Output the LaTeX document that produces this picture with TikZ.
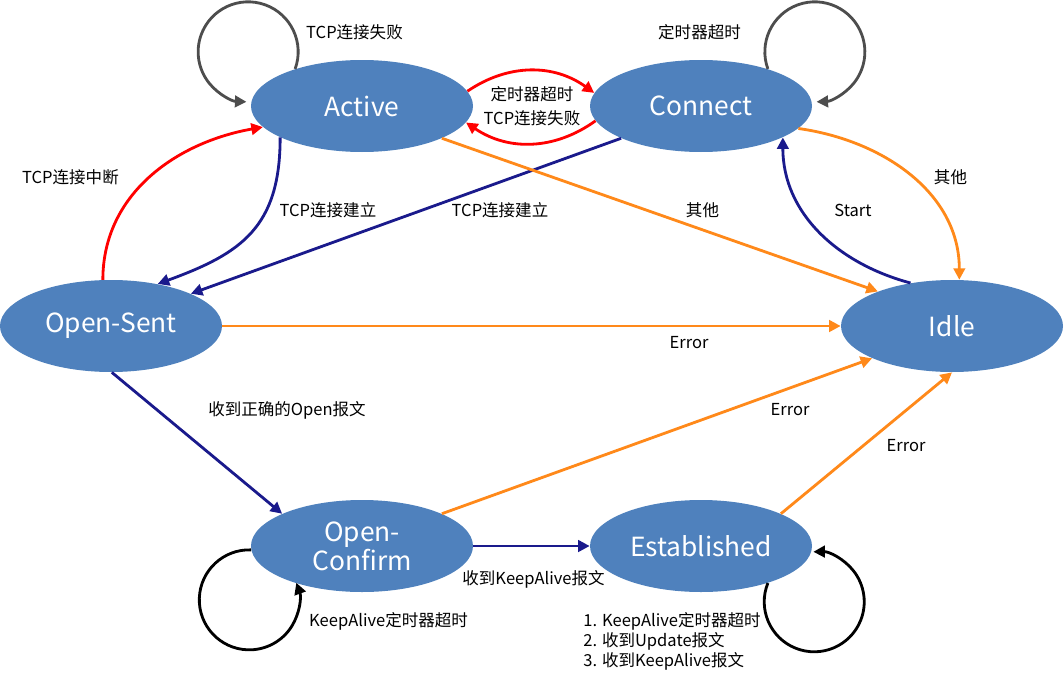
\documentclass[tikz,border=0pt]{standalone}
\usepackage{fontspec}
\setmainfont{Noto Sans CJK SC}
\usetikzlibrary{shapes.geometric, arrows.meta}

\definecolor{statefill}{RGB}{79,129,189}
\definecolor{navyline}{RGB}{26,26,140}
\definecolor{orangeline}{RGB}{255,137,26}
\definecolor{redline}{RGB}{255,0,0}
\definecolor{grayline}{RGB}{77,77,77}

\begin{document}
\begin{tikzpicture}[
    state/.style={ellipse, fill=statefill, text=white,
                  minimum width=4.44cm, minimum height=1.84cm,
                  inner sep=0pt, align=center,
                  font=\fontsize{15}{16.5}\selectfont},
    lbl/.style={inner sep=0pt, align=left,
                font=\fontsize{9.4}{11.3}\selectfont},
    arrow/.style={-{Triangle[length=2.3mm, width=2.3mm]}, line width=1.6pt},
    navyarrow/.style={arrow, draw=navyline},
    orangearrow/.style={arrow, draw=orangeline},
    redarrow/.style={arrow, draw=redline},
    loopgray/.style={arrow, draw=grayline},
    loopblack/.style={arrow, draw=black}
]
    \useasboundingbox (0,0) rectangle (21.28,13.64);

    \node[state] (active)      at (7.24, 11.52) {Active};
    \node[state] (connect)     at (14.02, 11.52) {Connect};
    \node[state] (opensent)    at (2.22, 7.12) {Open-Sent};
    \node[state] (idle)        at (19.04, 7.12) {Idle};
    \node[state] (openconfirm) at (7.24, 2.72) {Open-\\Confirm};
    \node[state] (established) at (14.02, 2.72) {Established};

    % zelf-lussen bovenaan
    \draw[loopgray] (active.151) arc[start angle=-20, end angle=268, radius=1cm];
    \draw[loopgray] (connect.29) arc[start angle=200, end angle=-88, radius=1cm];
    \node[lbl] (lactiveloop)  at (7.09, 13.0) {TCP连接失败};
    \node[lbl] (lconnectloop) at (13.99, 13.0) {定时器超时};

    % Active en Connect heen en weer
    \draw[redarrow] (active.8) to[bend left=35] (connect.173);
    \draw[redarrow] (connect.188) to[bend left=35] (active.351);
    \node[lbl] (ltimer)   at (10.64, 11.76) {定时器超时};
    \node[lbl] (lfail)    at (10.64, 11.28) {TCP连接失败};

    % Open-Sent terug naar Active
    \draw[redarrow] (opensent.100) to[out=90, in=190] (active.192);
    \node[lbl] (lbreak) at (1.41, 10.1) {TCP连接中断};

    % naar Open-Sent
    \draw[navyarrow] (active.201) to[out=-90, in=20, looseness=1.2] (opensent.42);
    \draw[navyarrow] (connect.202) -- (opensent.22);
    \node[lbl] (lestab1) at (6.56, 9.43) {TCP连接建立};
    \node[lbl] (lestab2) at (10.0, 9.43) {TCP连接建立};

    % Idle en Connect
    \draw[orangearrow] (connect.347) to[out=-8, in=90] (idle.81);
    \draw[navyarrow] (idle.134) to[out=165, in=-90] (connect.339);
    \node[lbl] (lother2) at (19.01, 10.1) {其他};
    \node[lbl] (lstart)  at (17.06, 9.44) {Start};

    % naar Idle
    \draw[orangearrow] (active.338) -- (idle.155);
    \draw[orangearrow] (opensent.east) -- (idle.west);
    \draw[orangearrow] (openconfirm.22) -- (idle.202);
    \draw[orangearrow] (established.22) -- (idle.270);
    \node[lbl] (lother1) at (14.05, 9.43) {其他};
    \node[lbl] (lerr1)   at (13.78, 6.78) {Error};
    \node[lbl] (lerr2)   at (15.8, 5.44) {Error};
    \node[lbl] (lerr3)   at (18.12, 4.72) {Error};

    % Open-Sent naar Open-Confirm naar Established
    \draw[navyarrow] (opensent.271) -- (openconfirm.158);
    \draw[navyarrow] (openconfirm.east) -- (established.west);
    \node[lbl] (lopen) at (5.74, 5.44) {收到正确的Open报文};
    \node[lbl] (lka)   at (10.67, 2.06) {收到KeepAlive报文};

    % zelf-lussen onderaan
    \draw[loopblack] (openconfirm.182) arc[start angle=88, end angle=380, radius=1cm];
    \draw[loopblack] (established.331) arc[start angle=158, end angle=451, radius=1cm];
    \node[lbl] (lkatimer) at (7.77, 1.21) {KeepAlive定时器超时};
    \node[lbl, anchor=west] (lestlist) at (11.66, 0.81)
        {1. KeepAlive定时器超时\\2. 收到Update报文\\3. 收到KeepAlive报文};

\end{tikzpicture}
\end{document}
